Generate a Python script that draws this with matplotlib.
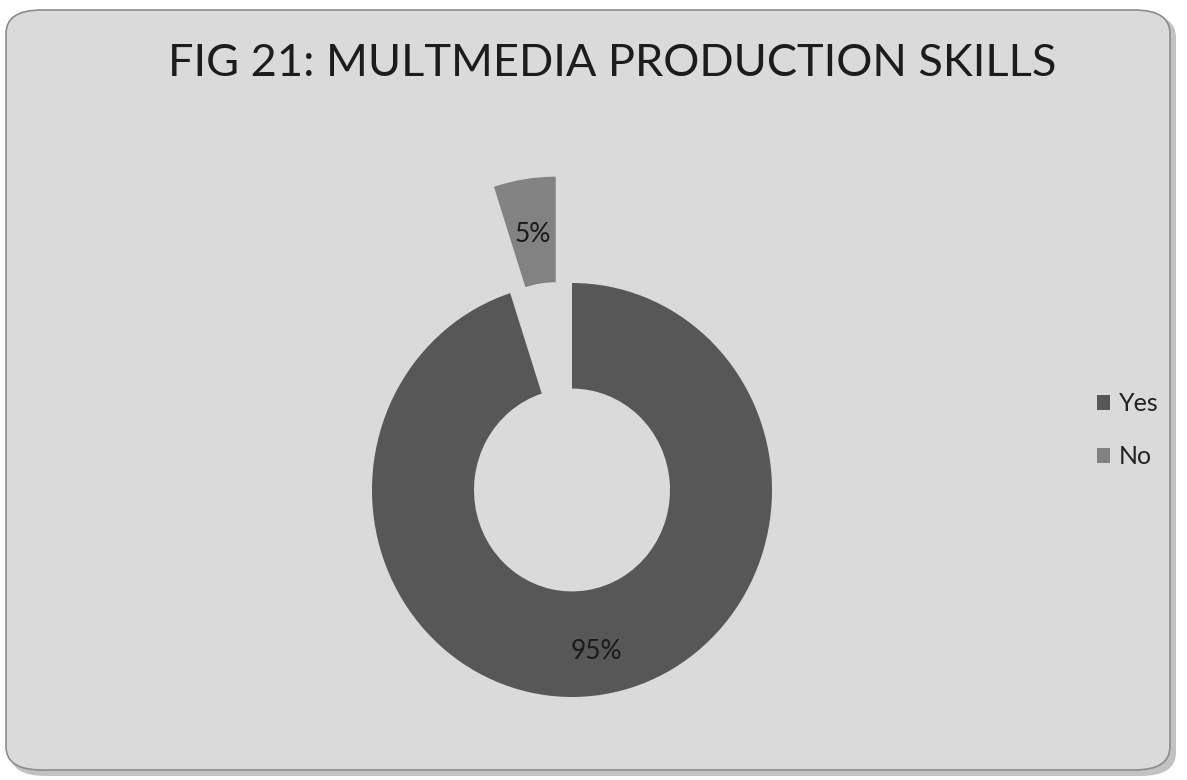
import numpy as np
import matplotlib.pyplot as plt
from matplotlib.patches import FancyBboxPatch

# Multimedia production skills survey
labels = ["Yes", "No"]
shares = [95, 5]
colors = ["#575757", "#828282"]

plt.rcParams['font.family'] = ['Lato', 'DejaVu Sans']

fig = plt.figure(figsize=(11.87, 7.80), dpi=100)
fig.patch.set_facecolor("white")

W, H = 1187, 780

# chart area: rounded panel with soft shadow
shadow = FancyBboxPatch((10 / W, 4 / H), 1166 / W, 762 / H,
                        boxstyle="round,pad=0,rounding_size=0.03",
                        transform=fig.transFigure, facecolor="#9a9a9a",
                        edgecolor="none", alpha=0.6, zorder=-2)
panel = FancyBboxPatch((6 / W, 10 / H), 1164 / W, 760 / H,
                       boxstyle="round,pad=0,rounding_size=0.03",
                       transform=fig.transFigure, facecolor="#dadada",
                       edgecolor="#8c8c8c", linewidth=1.2, zorder=-1)
fig.patches.extend([shadow, panel])

fig.text(612 / W, 1 - 63 / H, "FIG 21: MULTMEDIA PRODUCTION SKILLS",
         ha="center", va="center", fontsize=32.5, color="#1c1c1c")

# doughnut centred at (572, 490) px; the scan is slightly taller than wide
rx, ry = 200, 207
explode = [0, 0.52]
ax = fig.add_axes([(572 - rx) / W, (H - 490 - ry) / H, 2 * rx / W, 2 * ry / H])
wedges, texts, autotexts = ax.pie(
    shares, colors=colors, startangle=90, counterclock=False,
    explode=explode, autopct="%d%%", pctdistance=0.79,
    wedgeprops=dict(width=0.51, edgecolor="none"),
    textprops=dict(fontsize=19, color="#1a1a1a"))
for w in wedges:
    w.set_clip_on(False)
for t in autotexts:
    t.set_clip_on(False)

# the small slice's label sits mid-ring
theta = np.deg2rad((wedges[1].theta1 + wedges[1].theta2) / 2)
d = 0.73 + explode[1]
autotexts[1].set_position((d * np.cos(theta), d * np.sin(theta)))

ax.set_aspect("auto")
ax.set_xlim(-1, 1)
ax.set_ylim(-1, 1)
ax.axis("off")

leg = fig.legend(wedges, labels, loc="center left",
                 bbox_to_anchor=(1074 / W, 1 - 430 / H), frameon=False,
                 fontsize=18, handlelength=0.55, handleheight=0.55,
                 handletextpad=0.35, labelspacing=1.2, labelcolor="#222222")

fig.savefig("out.png", dpi=100)
